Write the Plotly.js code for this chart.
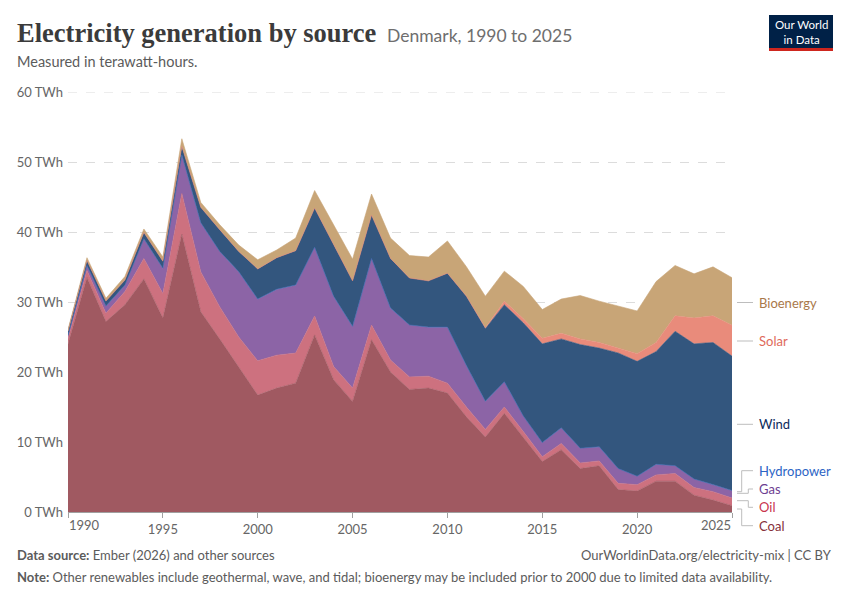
<!DOCTYPE html>
<html><head><meta charset="utf-8">
<script src="https://cdn.plot.ly/plotly-3.0.1.min.js"></script>
<style>html,body{margin:0;padding:0;background:#fff}#chart{width:850px;height:600px}</style>
</head><body><div id="chart"></div>
<script>
// ---- DATA (TWh) ----
const years = [1990,1991,1992,1993,1994,1995,1996,1997,1998,1999,2000,2001,2002,2003,2004,2005,2006,2007,2008,2009,2010,2011,2012,2013,2014,2015,2016,2017,2018,2019,2020,2021,2022,2023,2024,2025];
const coal = [24.0,33.5,27.2,29.6,33.3,27.7,39.7,28.6,24.7,20.7,16.7,17.7,18.4,25.3,18.9,15.8,24.6,20.0,17.5,17.7,17.0,13.6,10.7,14.1,10.6,7.2,8.9,6.2,6.6,3.2,3.0,4.4,4.4,2.4,1.7,0.9];
const oil = [0.8,1.0,1.2,1.9,2.9,3.5,5.8,5.7,4.6,4.3,4.9,4.7,4.3,2.7,1.9,1.9,2.1,1.7,1.8,1.7,1.4,1.4,1.1,0.9,0.9,0.7,0.9,0.8,0.7,0.9,0.9,0.9,1.1,1.1,1.2,1.1];
const gas = [0.4,0.7,1.0,0.9,2.8,3.6,5.5,7.0,7.9,9.3,8.8,9.4,9.7,9.8,10.0,8.8,9.5,7.4,7.4,7.0,8.0,5.9,4.0,3.6,2.2,2.0,2.2,2.1,2.0,2.1,1.2,1.5,1.1,1.2,1.0,1.05];
const hydropower = [0.03,0.03,0.03,0.03,0.03,0.03,0.02,0.02,0.03,0.03,0.03,0.03,0.03,0.02,0.03,0.02,0.02,0.03,0.03,0.02,0.02,0.02,0.02,0.01,0.02,0.02,0.02,0.02,0.02,0.02,0.02,0.02,0.02,0.02,0.02,0.02];
const wind = [0.6,0.7,0.7,0.7,0.9,1.0,1.2,2.2,3.1,2.9,4.3,4.5,4.9,5.6,7.4,6.5,6.2,7.1,6.7,6.6,7.7,9.9,10.4,11.0,13.3,14.1,12.7,14.8,14.1,16.5,16.4,16.1,19.2,19.3,20.3,19.2];
const solar = [0,0,0,0,0,0,0,0,0,0,0,0,0,0,0,0,0,0,0,0,0,0.02,0.1,0.5,0.6,0.8,0.8,0.8,0.8,0.7,1.1,1.3,2.2,3.7,3.8,4.4];
const bioenergy = [0.2,0.4,0.4,0.5,0.5,0.6,1.1,0.7,0.7,0.9,1.3,1.1,1.8,2.5,2.8,3.1,3.0,2.9,3.2,3.4,4.6,4.2,4.5,4.3,4.6,4.1,4.9,6.2,5.9,6.0,6.1,8.7,7.2,6.3,7.0,6.8];
const sourceNames = ['Coal','Oil','Gas','Hydropower','Wind','Solar','Bioenergy'];
const xTickYears = [1990,1995,2000,2005,2010,2015,2020,2025];
const yTickValues = [0,10,20,30,40,50,60];
const yTickLabels = ['0 TWh','10 TWh','20 TWh','30 TWh','40 TWh','50 TWh','60 TWh'];

// ---- STYLE ----
const seriesValues = [coal, oil, gas, hydropower, wind, solar, bioenergy];
const fillColors = ['#a05961','#cd717f','#8c64a6','#3a6ab3','#33567e','#e98b7b','#c8a577'];
const labelColors = ['#86303a','#c9344d','#6d3e91','#2c64c5','#0c2a5b','#e06a5a','#a9784a'];

const W = 850, H = 600;
const M = {l:68, r:118, t:92, b:88};
const PW = W - M.l - M.r, PH = H - M.t - M.b;
const px = x => (x - M.l) / PW;
const py = y => (H - M.b - y) / PH;

const traces = seriesValues.map((vals, i) => ({
  type: 'scatter', x: years, y: vals, name: sourceNames[i],
  stackgroup: 'one', mode: 'lines',
  line: {width: 0.6, color: fillColors[i]},
  fillcolor: fillColors[i], hoverinfo: 'skip'
}));

const FONT = 'Lato, "Noto Sans", sans-serif';
const annotations = [];
const shapes = [];

// top gridline (range edge)
shapes.push({type:'line', xref:'paper', yref:'y', x0:0, x1:1, y0:yTickValues[yTickValues.length-1], y1:yTickValues[yTickValues.length-1],
  line:{color:'#dcdcdc', width:1, dash:'dash'}, layer:'below'});

// title block
annotations.push({xref:'paper', yref:'paper', x:px(15), y:py(33), xanchor:'left', yanchor:'middle', showarrow:false,
  text:'<b>Electricity generation by source</b>', font:{family:'"Liberation Serif", "DejaVu Serif", serif', size:26.5, color:'#3b3b3b'}});
annotations.push({xref:'paper', yref:'paper', x:px(385), y:py(35), xanchor:'left', yanchor:'middle', showarrow:false,
  text:'Denmark, 1990 to 2025', font:{family:FONT, size:17.5, color:'#6e6e6e'}});
annotations.push({xref:'paper', yref:'paper', x:px(15), y:py(61), xanchor:'left', yanchor:'middle', showarrow:false,
  text:'Measured in terawatt-hours.', font:{family:FONT, size:14.5, color:'#5b5b5b'}});

// logo
shapes.push({type:'rect', xref:'paper', yref:'paper', x0:px(769), x1:px(833), y0:py(48), y1:py(15), fillcolor:'#002147', line:{width:0}});
shapes.push({type:'rect', xref:'paper', yref:'paper', x0:px(769), x1:px(833), y0:py(51), y1:py(48), fillcolor:'#ce261e', line:{width:0}});
annotations.push({xref:'paper', yref:'paper', x:px(801), y:py(31.5), xanchor:'center', yanchor:'middle', showarrow:false,
  text:'Our World<br>in Data', font:{family:FONT, size:11.5, color:'#ffffff'}});

// first and last x tick labels, aligned like the reference
annotations.push({xref:'x', yref:'paper', x:xTickYears[0], y:py(525), xanchor:'left', yanchor:'middle', showarrow:false, xshift:-1,
  text:String(xTickYears[0]), font:{family:FONT, size:13, color:'#666666'}});
annotations.push({xref:'x', yref:'paper', x:xTickYears[xTickYears.length-1], y:py(525), xanchor:'right', yanchor:'middle', showarrow:false, xshift:1,
  text:String(xTickYears[xTickYears.length-1]), font:{family:FONT, size:13, color:'#666666'}});

// right-side labels with connectors
const labelY = {Bioenergy:302.5, Solar:341, Wind:424.3, Hydropower:470.7, Gas:489, Oil:507.3, Coal:525.7};
sourceNames.forEach((n, i) => {
  annotations.push({xref:'paper', yref:'paper', x:px(757), y:py(labelY[n]), xanchor:'left', yanchor:'middle', showarrow:false,
    text:n, font:{family:FONT, size:13, color:labelColors[i]}});
});
const seg = (x0,y0,x1,y1) => shapes.push({type:'line', xref:'paper', yref:'paper', x0:px(x0), y0:py(y0), x1:px(x1), y1:py(y1), line:{color:'#bdbdbd', width:1}});
seg(737,302.5,753,302.5);
seg(737,341,753,341);
seg(737,424.3,753,424.3);
seg(737,491.7,741.7,491.7); seg(741.7,491.7,741.7,470.7); seg(741.7,470.7,753,470.7);
seg(737,493.3,748.3,493.3); seg(748.3,493.3,748.3,489); seg(748.3,489,753,489);
seg(737,500.7,748.3,500.7); seg(748.3,500.7,748.3,507.3); seg(748.3,507.3,753,507.3);
seg(737,509,741.7,509); seg(741.7,509,741.7,525.7); seg(741.7,525.7,753,525.7);

// footer
annotations.push({xref:'paper', yref:'paper', x:px(15), y:py(555), xanchor:'left', yanchor:'middle', showarrow:false,
  text:'<b>Data source:</b> Ember (2026) and other sources', font:{family:FONT, size:13, color:'#5b5b5b'}});
annotations.push({xref:'paper', yref:'paper', x:px(834), y:py(555), xanchor:'right', yanchor:'middle', showarrow:false,
  text:'OurWorldinData.org/electricity-mix | CC BY', font:{family:FONT, size:13, color:'#5b5b5b'}});
annotations.push({xref:'paper', yref:'paper', x:px(15), y:py(577), xanchor:'left', yanchor:'middle', showarrow:false,
  text:'<b>Note:</b> Other renewables include geothermal, wave, and tidal; bioenergy may be included prior to 2000 due to limited data availability.', font:{family:FONT, size:13, color:'#5b5b5b'}});

const layout = {
  width: W, height: H, margin: M,
  paper_bgcolor:'#ffffff', plot_bgcolor:'#ffffff',
  showlegend:false,
  font:{family:FONT, color:'#666666'},
  xaxis:{range:[1990,2025], tickvals:xTickYears, ticktext:xTickYears.map((y,i)=> (i===0 || i===xTickYears.length-1) ? '' : String(y)),
    ticks:'outside', ticklen:5, tickcolor:'#a0a0a0', showgrid:false, showline:true, linecolor:'#a0a0a0', linewidth:1,
    zeroline:false, tickfont:{family:FONT, size:13, color:'#666666'}, fixedrange:true},
  yaxis:{range:[0,60], tickvals:yTickValues, ticktext:yTickLabels, ticks:'', showline:false,
    showgrid:true, gridcolor:'#dcdcdc', griddash:'dash', gridwidth:1, zeroline:false,
    tickfont:{family:FONT, size:13, color:'#666666'}, ticklabelstandoff:4, fixedrange:true},
  annotations, shapes
};
Plotly.newPlot('chart', traces, layout, {displayModeBar:false, staticPlot:true});
</script>
</body></html>
